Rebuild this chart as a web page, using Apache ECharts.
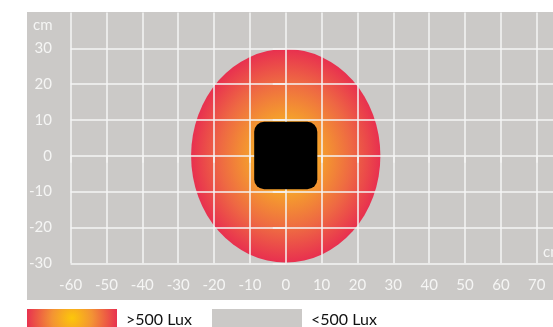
<!DOCTYPE html>
<html>
<head>
<meta charset="utf-8">
<script src="https://cdn.jsdelivr.net/npm/echarts@6/dist/echarts.min.js"></script>
<style>
  html, body { margin: 0; padding: 0; background: #fff; }
  #chart { width: 553px; height: 327px; }
</style>
</head>
<body>
<div id="chart"></div>
<script>
// plot ranges (cm)
const xRange = [-60, 80];
const yRange = [-30, 40];
const tickStep = 10;
// lit area: centre x, centre y, half width, half height
const lightZone = [[0, 0, 26.4, 29.8]];
// sensor body: x0, y0, x1, y1
const sensorBox = [[-8.8, -9.3, 8.8, 9.5]];
const legendNames = ['>500 Lux', '<500 Lux'];
const unitName = 'cm';

const GRAY = '#cbc9c7';
const LINE = '#f5f5f4';
const FONT = 'Lato';

const chart = echarts.init(document.getElementById('chart'));

chart.setOption({
  backgroundColor: '#fff',
  animation: false,
  grid: { left: 70.6, top: 12.5, bottom: 63.7, width: 502, outerBoundsMode: 'none', containLabel: false },
  xAxis: {
    type: 'value',
    min: xRange[0], max: xRange[1], interval: tickStep,
    axisLine: { show: false },
    axisTick: { show: true, length: 7, lineStyle: { color: LINE, width: 1.5 } },
    axisLabel: {
      color: LINE, fontFamily: FONT, fontSize: 15, margin: 14,
      showMaxLabel: false
    },
    splitLine: { show: true, lineStyle: { color: LINE, width: 1.5 } }
  },
  yAxis: {
    type: 'value',
    min: yRange[0], max: yRange[1], interval: tickStep,
    axisLine: { show: false },
    axisTick: { show: true, length: 13, lineStyle: { color: LINE, width: 1.5 } },
    axisLabel: {
      color: LINE, fontFamily: FONT, fontSize: 15, margin: 18.6,
      showMaxLabel: false
    },
    splitLine: { show: true, showMaxLine: false, lineStyle: { color: LINE, width: 1.5 } }
  },
  graphic: [
    { type: 'rect', z: -10, shape: { x: 27, y: 12, width: 540, height: 288 }, style: { fill: GRAY } },
    { type: 'text', z: 10, x: 33, y: 25, style: { text: unitName, fill: LINE, font: '15px Lato', verticalAlign: 'middle' } },
    { type: 'text', z: 10, x: 543, y: 252, style: { text: unitName, fill: LINE, font: '15px Lato', verticalAlign: 'middle' } },
    {
      type: 'rect', shape: { x: 27, y: 309, width: 90, height: 20 },
      style: {
        fill: {
          type: 'radial', x: 72, y: 318, r: 45, global: true,
          colorStops: [
            { offset: 0, color: '#fcc70a' },
            { offset: 0.45, color: '#f39334' },
            { offset: 1, color: '#e8334f' }
          ]
        }
      }
    },
    { type: 'text', x: 126, y: 320, style: { text: legendNames[0], fill: '#111', font: '16px Lato', verticalAlign: 'middle' } },
    { type: 'rect', shape: { x: 212, y: 309, width: 90, height: 20 }, style: { fill: GRAY } },
    { type: 'text', x: 311, y: 320, style: { text: legendNames[1], fill: '#111', font: '16px Lato', verticalAlign: 'middle' } }
  ],
  series: [
    {
      type: 'custom',
      z: -1,
      silent: true,
      data: lightZone,
      encode: { x: 0, y: 1 },
      renderItem: function (params, api) {
        const c = api.coord([api.value(0), api.value(1)]);
        const s = api.size([api.value(2), api.value(3)]);
        return {
          type: 'circle',
          x: c[0], y: c[1],
          scaleX: s[0] / s[1],
          shape: { cx: 0, cy: 0, r: s[1] },
          style: {
            fill: {
              type: 'radial', x: 0.5, y: 0.5, r: 0.5,
              colorStops: [
                { offset: 0, color: '#f9b81e' },
                { offset: 0.35, color: '#f5a02c' },
                { offset: 0.7, color: '#ee6843' },
                { offset: 1, color: '#e8304f' }
              ]
            }
          }
        };
      }
    },
    {
      type: 'custom',
      z: 5,
      silent: true,
      data: sensorBox,
      encode: { x: [0, 2], y: [1, 3] },
      renderItem: function (params, api) {
        const p0 = api.coord([api.value(0), api.value(3)]);
        const p1 = api.coord([api.value(2), api.value(1)]);
        return {
          type: 'rect',
          shape: { x: p0[0], y: p0[1], width: p1[0] - p0[0], height: p1[1] - p0[1], r: 10 },
          style: { fill: '#000' }
        };
      }
    }
  ]
});
</script>
</body>
</html>
